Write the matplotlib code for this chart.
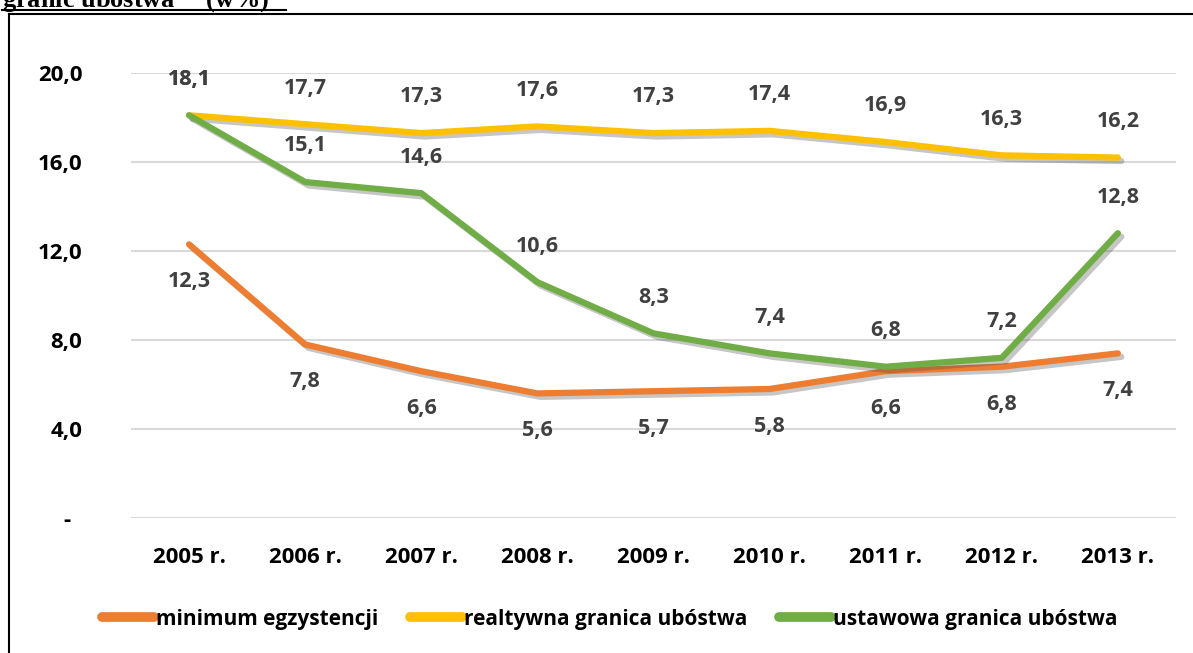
import numpy as np
import matplotlib.pyplot as plt
import matplotlib.patheffects as pe
from matplotlib.lines import Line2D

years = ["2005 r.", "2006 r.", "2007 r.", "2008 r.", "2009 r.",
         "2010 r.", "2011 r.", "2012 r.", "2013 r."]
minimum = [12.3, 7.8, 6.6, 5.6, 5.7, 5.8, 6.6, 6.8, 7.4]
relatywna = [18.1, 17.7, 17.3, 17.6, 17.3, 17.4, 16.9, 16.3, 16.2]
ustawowa = [18.1, 15.1, 14.6, 10.6, 8.3, 7.4, 6.8, 7.2, 12.8]
yticks = [0, 4, 8, 12, 16, 20]
ytick_labels = ["-  ", "4,0", "8,0", "12,0", "16,0", "20,0"]

series = [
    ("minimum egzystencji", minimum, "#ED7D31", -1),
    ("realtywna granica ubóstwa", relatywna, "#FFC000", 1),
    ("ustawowa granica ubóstwa", ustawowa, "#70AD47", 1),
]

plt.rcParams['font.family'] = ['Open Sans', 'DejaVu Sans']

fig = plt.figure(figsize=(11.93, 6.53), dpi=100)
ax = fig.add_axes([0.1098, 0.2067, 0.8759, 0.6815])

x = np.arange(len(years))
shadow = [pe.SimpleLineShadow(offset=(2.5, -2.5), alpha=0.3, shadow_color="#444444"), pe.Normal()]
handles = []
for name, vals, col, side in series:
    ax.plot(x, vals, color=col, lw=4.5, solid_capstyle="round",
            solid_joinstyle="round", path_effects=shadow, label=name, zorder=3)
    handles.append(Line2D([0], [0], color=col, lw=7, solid_capstyle="round"))
    for xi, v in zip(x, vals):
        txt = f"{v:.1f}".replace(".", ",")
        off = 26 if side > 0 else -27
        ax.annotate(txt, (xi, v), xytext=(0, off), textcoords="offset points",
                    ha="center", va="center", fontsize=15.5, fontweight="bold",
                    color="#404040", annotation_clip=False, zorder=4)

ax.set_xlim(-0.5, len(years) - 0.5)
ax.set_ylim(0, 20)
ax.set_yticks(yticks)
ax.set_yticklabels(ytick_labels)
ax.set_xticks(x)
ax.set_xticklabels(years)
ax.tick_params(axis="y", length=0, pad=35, labelsize=16)
ax.tick_params(axis="x", length=0, pad=21, labelsize=16)
for lab in ax.get_xticklabels() + ax.get_yticklabels():
    lab.set_fontweight("bold")
ax.grid(axis="y", color="#D9D9D9", lw=1.5)
ax.set_axisbelow(True)
for s in ax.spines.values():
    s.set_visible(False)

fig.legend(handles, [s[0] for s in series], loc="center", bbox_to_anchor=(0.511, 0.052),
           ncol=3, frameon=False, handlelength=2.5, handletextpad=0.1,
           columnspacing=1.5, prop={"size": 15, "weight": "bold"})

# frame around the chart and the clipped caption above it
fig.add_artist(Line2D([9 / 1193, 9 / 1193], [0, 1 - 14 / 653], color="black", lw=1.5,
                      transform=fig.transFigure))
fig.add_artist(Line2D([9 / 1193, 1], [1 - 14 / 653, 1 - 14 / 653], color="black", lw=1.5,
                      transform=fig.transFigure))
fig.text(2 / 1193, 1 - 8 / 653, "granic ubóstwa$^{10}$ (w%)", fontsize=19,
         fontweight="bold", family=["Liberation Serif", "DejaVu Serif"],
         ha="left", va="baseline")
fig.add_artist(Line2D([2 / 1193, 286 / 1193], [1 - 10 / 653, 1 - 10 / 653], color="black",
                      lw=1.5, transform=fig.transFigure))

fig.savefig("out.png", dpi=100)
